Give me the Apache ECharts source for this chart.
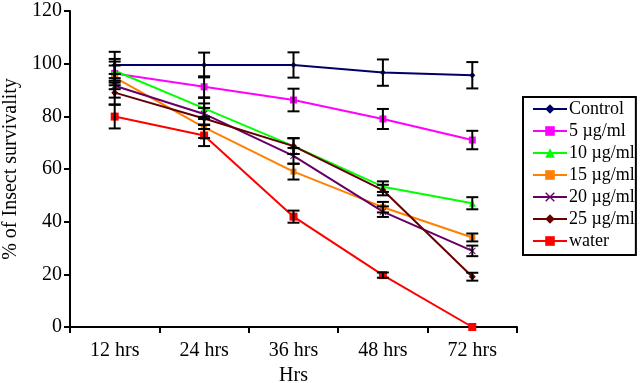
<!DOCTYPE html>
<html>
<head>
<meta charset="utf-8">
<script src="https://cdn.jsdelivr.net/npm/echarts@6/dist/echarts.min.js"></script>
<style>
  html, body { margin: 0; padding: 0; background: #fff; }
  #chart { width: 640px; height: 383px; }
</style>
</head>
<body>
<div id="chart"></div>
<script>
const categories = ["12 hrs", "24 hrs", "36 hrs", "48 hrs", "72 hrs"];
const yTicks = [0, 20, 40, 60, 80, 100, 120];

const control = [99.5, 99.5, 99.5, 96.6, 95.6];
const dose5 = [96.3, 91.2, 86.2, 79.0, 71.0];
const dose10 = [97.3, 83.0, 68.7, 53.3, 47.0];
const dose15 = [94.8, 75.8, 59.0, 45.5, 34.0];
const dose20 = [91.6, 80.9, 65.0, 43.8, 28.9];
const dose25 = [89.0, 79.2, 68.7, 52.0, 19.1];
const water = [79.9, 72.7, 41.9, 19.7, 0];

const errControl = [5, 4.7, 4.8, 5, 5];
const err5 = [4.5, 4, 4.3, 3.8, 3.5];
const err10 = [4.5, 4, 3, 2, 2.3];
const err15 = [4.5, 4, 3, 2, 1.5];
const err20 = [4.5, 4, 3, 2, 2];
const err25 = [4.5, 4, 3, 2, 1.5];
const errWater = [4.5, 4, 2.3, 1, 0];

const names = ["Control", "5 µg/ml", "10 µg/ml", "15 µg/ml", "20 µg/ml", "25 µg/ml", "water"];

const chart = echarts.init(document.getElementById("chart"), null, { renderer: "canvas" });

const font = "Liberation Serif";
// filled x-shaped marker
const xShape = "path://M0,1L1,0L5,4L9,0L10,1L6,5L10,9L9,10L5,6L1,10L0,9L4,5Z";

const lineSeries = [
  { name: names[0], data: control, color: "#000066", symbol: "diamond", size: 6 },
  { name: names[1], data: dose5, color: "#FF00FF", symbol: "rect", size: 7 },
  { name: names[2], data: dose10, color: "#00FF00", symbol: "triangle", size: 7 },
  { name: names[3], data: dose15, color: "#FF8000", symbol: "rect", size: 6 },
  { name: names[4], data: dose20, color: "#660066", symbol: xShape, size: 7 },
  { name: names[5], data: dose25, color: "#660000", symbol: "diamond", size: 7 },
  { name: names[6], data: water, color: "#FF0000", symbol: "rect", size: 8 },
].map((s) => ({
  name: s.name,
  type: "line",
  data: s.data,
  symbol: s.symbol,
  symbolSize: s.size,
  color: s.color,
  lineStyle: { color: s.color, width: 2 },
  itemStyle: { color: s.color },
  z: 3,
  animation: false,
}));

// error bars, drawn as custom series
const errorSets = [
  [control, errControl], [dose5, err5], [dose10, err10], [dose15, err15],
  [dose20, err20], [dose25, err25], [water, errWater],
];
const errorSeries = errorSets.map(([vals, errs], k) => ({
  name: "err" + k,
  type: "custom",
  z: 4,
  animation: false,
  data: vals.map((v, i) => [i, v - errs[i], v + errs[i]]),
  renderItem: (params, api) => {
    if (api.value(2) - api.value(1) < 0.01) return null;
    const lo = api.coord([api.value(0), api.value(1)]);
    const hi = api.coord([api.value(0), api.value(2)]);
    const w = 6;
    const st = { stroke: "#000", lineWidth: 2 };
    return {
      type: "group",
      children: [
        { type: "line", shape: { x1: hi[0], y1: hi[1], x2: lo[0], y2: lo[1] }, style: st },
        { type: "line", shape: { x1: hi[0] - w, y1: hi[1], x2: hi[0] + w, y2: hi[1] }, style: st },
        { type: "line", shape: { x1: lo[0] - w, y1: lo[1], x2: lo[0] + w, y2: lo[1] }, style: st },
      ],
    };
  },
}));

const option = {
  backgroundColor: "#fff",
  textStyle: { fontFamily: font, color: "#000" },
  grid: { left: 70, right: 123, top: 11, bottom: 56, containLabel: false, outerBoundsMode: "none" },
  legend: {
    data: names,
    orient: "vertical",
    left: 523,
    top: 97,
    borderColor: "#000",
    borderWidth: 2,
    padding: [3, 1, 5, 9],
    itemWidth: 34,
    itemHeight: 12,
    itemGap: 4,
    textStyle: { fontFamily: font, fontSize: 18, color: "#000", padding: [0, 0, 0, -3] },
  },
  xAxis: {
    type: "category",
    data: categories,
    boundaryGap: true,
    name: "Hrs",
    nameLocation: "middle",
    nameGap: 36,
    nameTextStyle: { fontFamily: font, fontSize: 20, color: "#000" },
    axisLine: { lineStyle: { color: "#000", width: 2 } },
    axisTick: { show: true, length: 6, lineStyle: { color: "#000", width: 2 } },
    axisLabel: { fontFamily: font, fontSize: 20, color: "#000", margin: 14 },
    splitLine: { show: false },
  },
  yAxis: {
    type: "value",
    min: yTicks[0],
    max: yTicks[yTicks.length - 1],
    interval: 20,
    name: "% of Insect survivality",
    nameLocation: "middle",
    nameGap: 42,
    nameRotate: 90,
    nameTextStyle: { fontFamily: font, fontSize: 20, color: "#000" },
    axisLine: { show: true, lineStyle: { color: "#000", width: 2 } },
    axisTick: { show: true, length: 6, lineStyle: { color: "#000", width: 2 } },
    axisLabel: { fontFamily: font, fontSize: 20, color: "#000", margin: 8 },
    splitLine: { show: false },
  },
  series: [...lineSeries, ...errorSeries],
};

chart.setOption(option);
</script>
</body>
</html>
